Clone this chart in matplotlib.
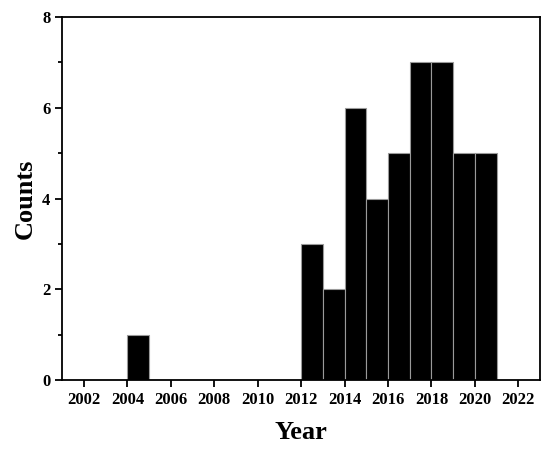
import matplotlib
matplotlib.use("Agg")
import matplotlib.pyplot as plt
from matplotlib.ticker import MultipleLocator

# publication counts per year (bin starts at the year)
years = [2004, 2012, 2013, 2014, 2015, 2016, 2017, 2018, 2019, 2020]
counts = [1, 3, 2, 6, 4, 5, 7, 7, 5, 5]

plt.rcParams['font.family'] = ['Liberation Serif', 'DejaVu Serif']
plt.rcParams['font.weight'] = 'bold'

fig, ax = plt.subplots(figsize=(5.5, 4.5), dpi=100)
fig.subplots_adjust(left=0.113, right=0.982, top=0.962, bottom=0.155)

ax.bar(years, counts, width=1, align='edge', color='black',
       edgecolor='#9a9a9a', linewidth=0.8)

ax.set_xlim(2001, 2023)
ax.set_ylim(0, 8)
ax.set_xticks(range(2002, 2023, 2))
ax.yaxis.set_major_locator(MultipleLocator(2))
ax.yaxis.set_minor_locator(MultipleLocator(1))

for s in ax.spines.values():
    s.set_linewidth(1.3)
ax.tick_params(which='major', direction='out', length=5, width=1.3, labelsize=12)
ax.tick_params(which='minor', direction='out', length=3, width=1.3)

ax.set_xlabel('Year', fontsize=19, fontweight='bold', labelpad=9)
ax.set_ylabel('Counts', fontsize=19, fontweight='bold', labelpad=4)

fig.savefig('out.png')
